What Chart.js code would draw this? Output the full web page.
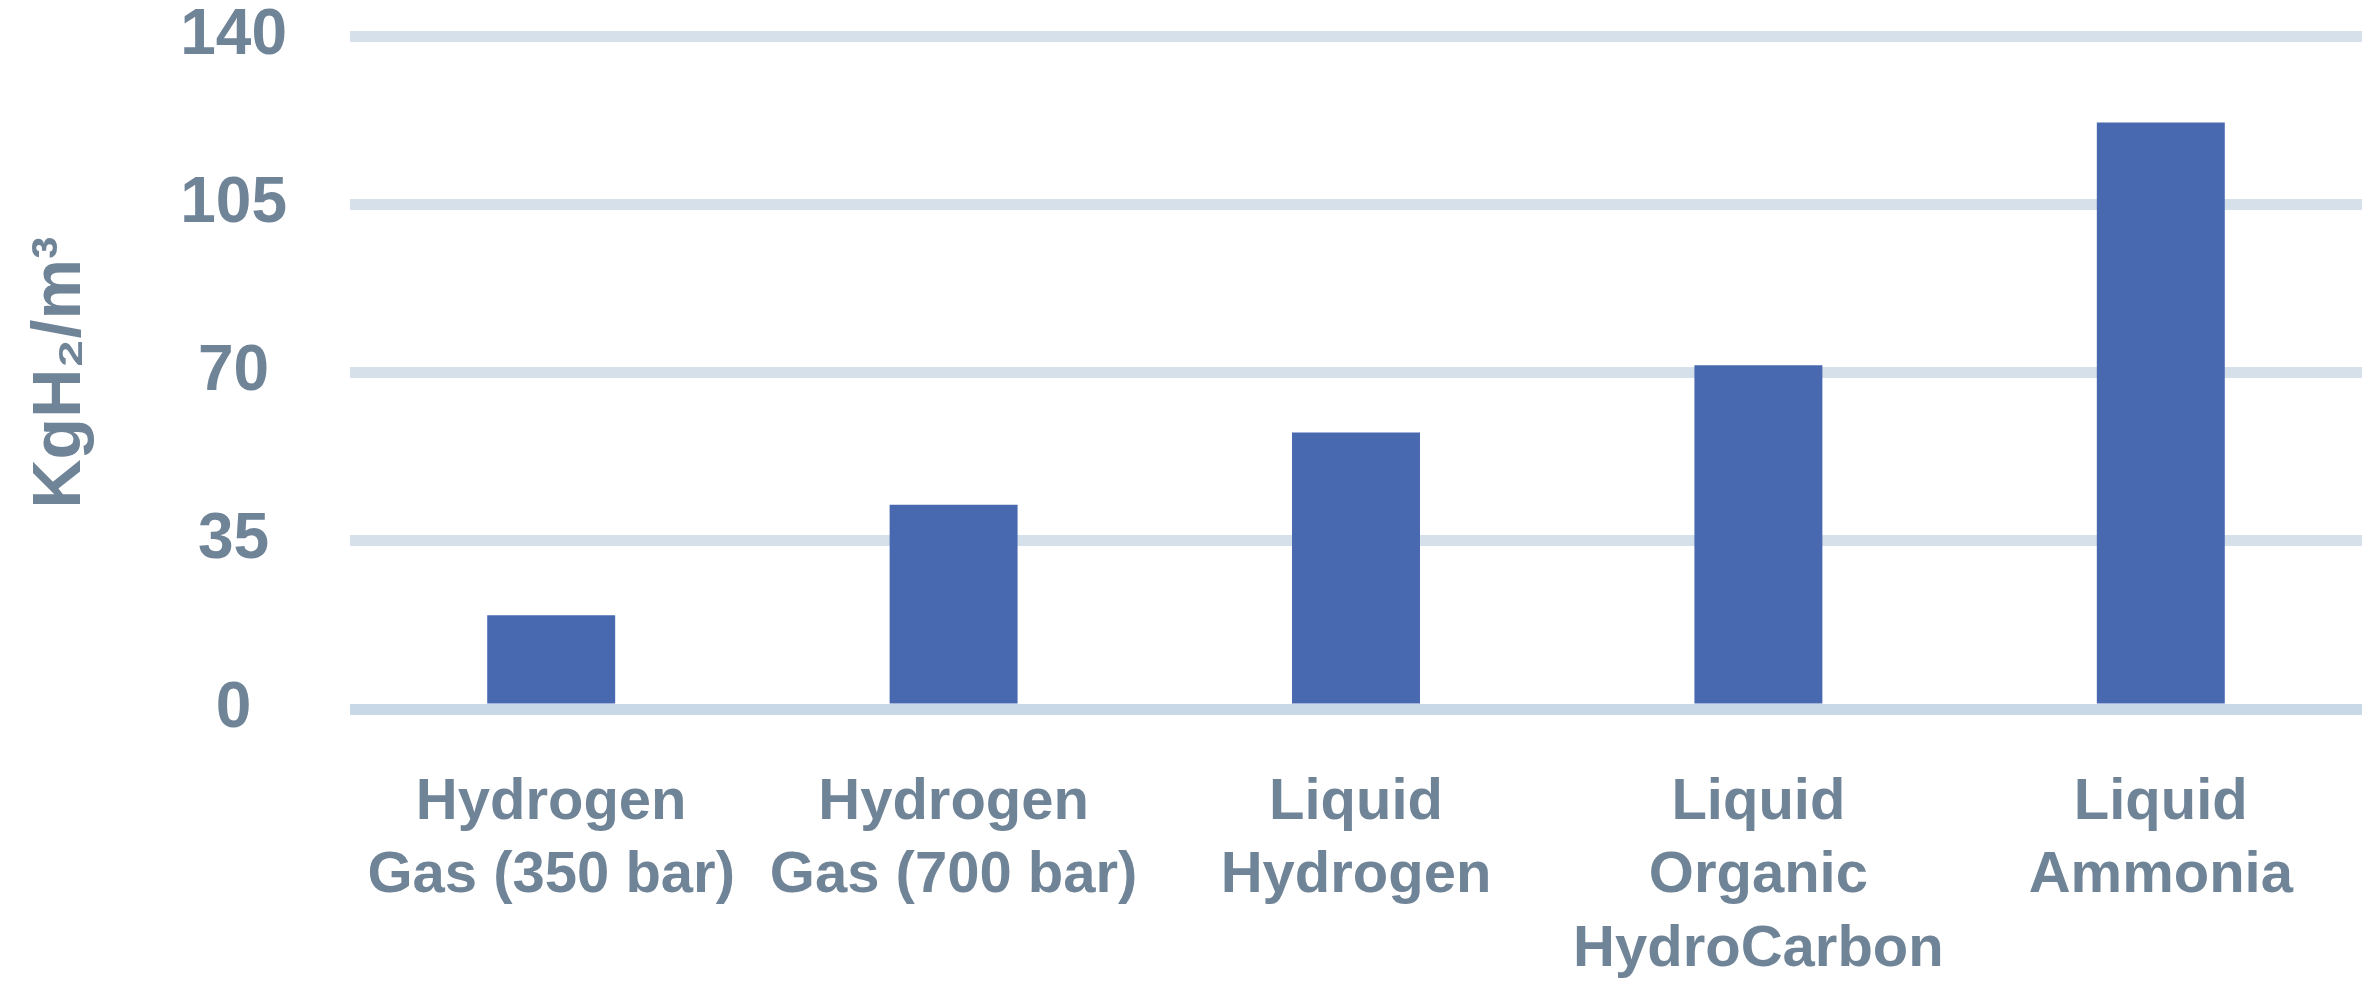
<!DOCTYPE html>
<html>
<head>
<meta charset="utf-8">
<title>Hydrogen storage density</title>
<script src="https://cdn.jsdelivr.net/npm/chart.js@4"></script>
<style>
  html, body { margin: 0; padding: 0; background: #ffffff; }
  #wrap { width: 2376px; height: 986px; }
</style>
</head>
<body>
<div id="wrap"><canvas id="graficoDensidade"></canvas></div>
<script>
const categorias = [
  ["Hydrogen", "Gas (350 bar)"],
  ["Hydrogen", "Gas (700 bar)"],
  ["Liquid", "Hydrogen"],
  ["Liquid", "Organic", "HydroCarbon"],
  ["Liquid", "Ammonia"],
];
const densidades = [19.5, 42.5, 57.5, 71.5, 122];
const tituloEixoY = "KgH₂/m³";
const eixoYMin = 0;
const eixoYMax = 140;
const eixoYPasso = 35;

const corTexto = "#708498";
const corBarra = "#4868b0";
const fonte = "'Liberation Sans', Arial, sans-serif";

const canvasDensidade = document.getElementById("graficoDensidade");

const graficoDensidade = new Chart(canvasDensidade, {
  type: "bar",
  data: {
    labels: categorias,
    datasets: [
      {
        label: tituloEixoY,
        data: densidades,
        backgroundColor: corBarra,
        borderWidth: 0,
        barPercentage: 0.318,
        categoryPercentage: 1,
      },
    ],
  },
  options: {
    responsive: true,
    maintainAspectRatio: false,
    animation: false,
    layout: {
      padding: { top: 36, right: 14, bottom: 0, left: 0 },
    },
    plugins: {
      legend: { display: false },
      tooltip: { enabled: false },
    },
    scales: {
      x: {
        grid: { display: false, drawTicks: false },
        border: { display: false },
        ticks: {
          color: corTexto,
          padding: 57,
          maxRotation: 0,
          autoSkip: false,
          font: { family: fonte, weight: "bold", size: 58, lineHeight: 1.267 },
        },
        afterFit: (escala) => {
          escala.height = 277;
        },
      },
      y: {
        min: eixoYMin,
        max: eixoYMax,
        border: { display: false },
        grid: {
          drawTicks: false,
          lineWidth: 11,
          color: (ctx) => (ctx.tick && ctx.tick.value === 0 ? "#c9d8e7" : "#d5e0eb"),
        },
        ticks: {
          stepSize: eixoYPasso,
          color: corTexto,
          padding: 63,
          crossAlign: "center",
          font: { family: fonte, weight: "bold", size: 64 },
        },
        title: {
          display: true,
          text: tituloEixoY,
          color: corTexto,
          padding: { top: 20, bottom: 0 },
          font: { family: fonte, weight: "bold", size: 68 },
        },
        afterFit: (escala) => {
          // a margem dos rótulos não deve empurrar a área do gráfico
          escala.width = 350;
          escala.paddingTop = 0;
          escala.paddingBottom = 0;
        },
      },
    },
  },
});
</script>
</body>
</html>
